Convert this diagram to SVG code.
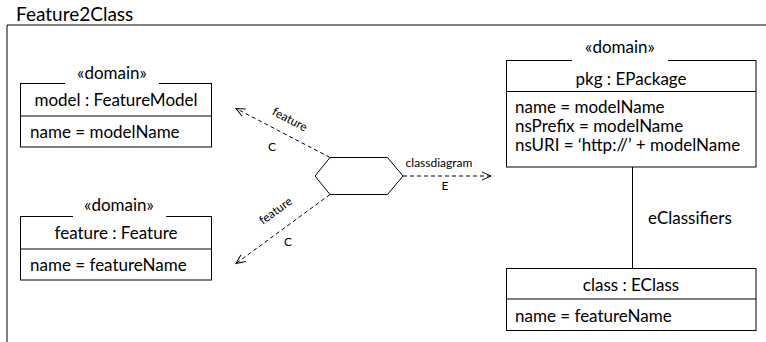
<svg xmlns="http://www.w3.org/2000/svg" width="766" height="342" viewBox="0 0 766 342">
<defs>
<marker id="open" markerWidth="12" markerHeight="12" refX="10" refY="5" orient="auto" markerUnits="userSpaceOnUse">
<path d="M1,1 L10,5 L1,9" fill="none" stroke="#000" stroke-width="1"/>
</marker>
</defs>
<style>
text{font-family:Lato,"Liberation Sans",sans-serif;font-size:17px;fill:#000}
.sm{font-size:12px}
.ttl{font-size:19px}
.box{fill:#fff;stroke:#000;stroke-width:1}
.ln{stroke:#000;stroke-width:1;fill:none}
.dash{stroke:#000;stroke-width:1;fill:none;stroke-dasharray:4,3}
.mid{text-anchor:middle}
.gap{fill:#fff}
</style>
<rect width="766" height="342" fill="#fff"/>
<g id="frame">
<text class="ttl" x="16" y="21">Feature2Class</text>
<path d="M7,342 V25 H766" class="ln" stroke="#444" stroke-width="1.5"/>
</g>
<g id="connectors">
<line x1="330" y1="157.5" x2="236" y2="108.5" class="dash" marker-end="url(#open)"/>
<line x1="330" y1="194.5" x2="236" y2="263.5" class="dash" marker-end="url(#open)"/>
<line x1="403" y1="176" x2="491" y2="176" class="dash" marker-end="url(#open)"/>
<line x1="632.5" y1="167" x2="632.5" y2="268" class="ln"/>
<text class="sm mid" transform="translate(288,123) rotate(27.5)">feature</text>
<text class="sm mid" x="272" y="151">C</text>
<text class="sm mid" transform="translate(278,214) rotate(-36)">feature</text>
<text class="sm mid" x="288" y="246">C</text>
<text class="sm mid" x="439" y="167">classdiagram</text>
<text class="sm mid" x="445" y="190">E</text>
<text x="648" y="224">eClassifiers</text>
</g>
<g id="hexagon">
<polygon points="330,157.5 387.5,157.5 403,176 387.5,194.5 330,194.5 315,176" class="box"/>
</g>
<g id="model">
<rect x="20.5" y="83.5" width="191" height="63.5" class="box"/>
<rect x="65" y="76" width="94" height="10" class="gap"/>
<text class="mid" x="112" y="79">«domain»</text>
<line x1="20.5" y1="116" x2="211.5" y2="116" class="ln"/>
<text class="mid" x="116" y="106">model : FeatureModel</text>
<text x="30" y="138">name = modelName</text>
</g>
<g id="feature">
<rect x="20.5" y="216.5" width="191" height="63.5" class="box"/>
<rect x="73" y="210" width="93" height="10" class="gap"/>
<text class="mid" x="119" y="211">«domain»</text>
<line x1="20.5" y1="249" x2="211.5" y2="249" class="ln"/>
<text class="mid" x="116" y="239">feature : Feature</text>
<text x="30" y="271">name = featureName</text>
</g>
<g id="pkg">
<rect x="506.5" y="60.5" width="249.5" height="106.5" class="box"/>
<rect x="572" y="55" width="96" height="10" class="gap"/>
<text class="mid" x="620" y="53">«domain»</text>
<line x1="506.5" y1="91.5" x2="756" y2="91.5" class="ln"/>
<text class="mid" x="631" y="85">pkg : EPackage</text>
<text x="515" y="113">name = modelName</text>
<text x="515" y="132">nsPrefix = modelName</text>
<text x="515" y="151">nsURI = ‘http://’ + modelName</text>
</g>
<g id="class">
<rect x="506.5" y="268.5" width="249.5" height="62" class="box"/>
<line x1="506.5" y1="299" x2="756" y2="299" class="ln"/>
<text class="mid" x="631" y="291">class : EClass</text>
<text x="515" y="322">name = featureName</text>
</g>
</svg>
